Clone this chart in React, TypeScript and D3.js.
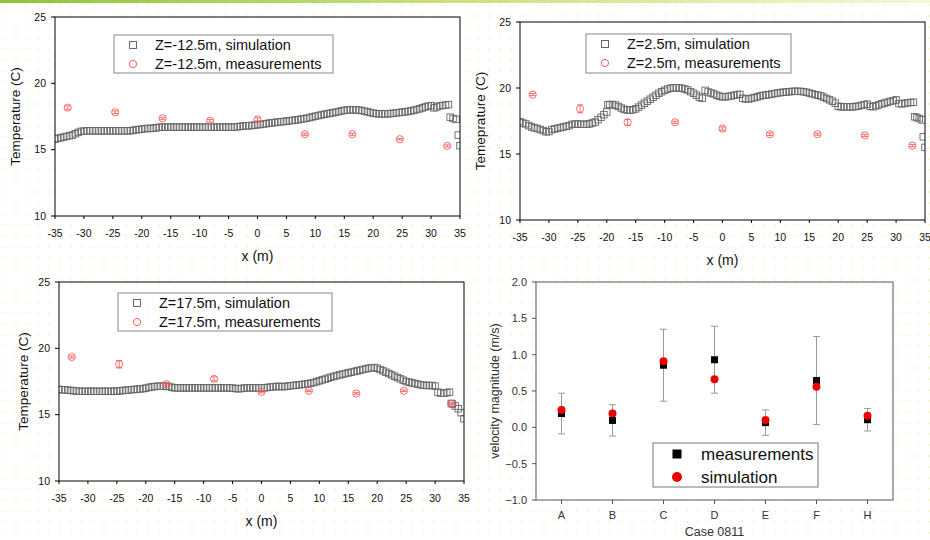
import * as d3 from "d3";

type Pt = [number, number];

const FONT = "'Liberation Sans', Arial, sans-serif";

// measurement stations along x (m), shared by the three temperature plots
const measX = [-32.8, -24.6, -16.4, -8.2, 0, 8.2, 16.4, 24.6, 32.8];

const measLow = [18.17, 17.82, 17.37, 17.18, 17.28, 16.16, 16.16, 15.79, 15.28];
const errLow = [0.12, 0.1, 0.08, 0.1, 0.12, 0.08, 0.08, 0.06, 0.08];
const measMid = [19.5, 18.42, 17.4, 17.4, 16.93, 16.5, 16.5, 16.41, 15.63];
const errMid = [0.08, 0.3, 0.22, 0.08, 0.12, 0.1, 0.08, 0.08, 0.08];
const measHigh = [19.35, 18.8, 17.3, 17.7, 16.72, 16.8, 16.6, 16.8, 15.82];
const errHigh = [0.08, 0.28, 0.08, 0.15, 0.08, 0.06, 0.06, 0.06, 0.06];

// simulation, Z=-12.5m
const simLow: Pt[] = [
  [-35, 15.8], [-34.5, 15.85], [-34, 15.9], [-33.5, 15.95], [-33, 16.0], [-32.5, 16.05], [-32, 16.1], [-31.5, 16.2],
  [-31, 16.3], [-30.5, 16.38], [-30, 16.4], [-29.5, 16.42], [-29, 16.42], [-28.5, 16.42], [-28, 16.42], [-27.5, 16.42],
  [-27, 16.42], [-26.5, 16.42], [-26, 16.42], [-25.5, 16.42], [-25, 16.42], [-24.5, 16.42], [-24, 16.42], [-23.5, 16.42],
  [-23, 16.42], [-22.5, 16.42], [-22, 16.43], [-21.5, 16.45], [-21, 16.5], [-20.5, 16.52], [-20, 16.55], [-19.5, 16.58],
  [-19, 16.6], [-18.5, 16.6], [-18, 16.62], [-17.5, 16.65], [-17, 16.68], [-16.5, 16.7], [-16, 16.7], [-15.5, 16.7],
  [-15, 16.7], [-14.5, 16.7], [-14, 16.7], [-13.5, 16.7], [-13, 16.7], [-12.5, 16.7], [-12, 16.7], [-11.5, 16.7],
  [-11, 16.7], [-10.5, 16.7], [-10, 16.7], [-9.5, 16.7], [-9, 16.7], [-8.5, 16.7], [-8, 16.7], [-7.5, 16.7],
  [-7, 16.7], [-6.5, 16.7], [-6, 16.7], [-5.5, 16.7], [-5, 16.7], [-4.5, 16.7], [-4, 16.7], [-3.5, 16.72],
  [-3, 16.75], [-2.5, 16.78], [-2, 16.8], [-1.5, 16.8], [-1, 16.82], [-0.5, 16.85], [0, 16.88], [0.5, 16.9],
  [1, 16.93], [1.5, 16.96], [2, 17.0], [2.5, 17.02], [3, 17.05], [3.5, 17.08], [4, 17.1], [4.5, 17.12],
  [5, 17.15], [5.5, 17.18], [6, 17.2], [6.5, 17.23], [7, 17.26], [7.5, 17.3], [8, 17.33], [8.5, 17.37],
  [9, 17.42], [9.5, 17.47], [10, 17.52], [10.5, 17.57], [11, 17.62], [11.5, 17.66], [12, 17.7], [12.5, 17.74],
  [13, 17.78], [13.5, 17.82], [14, 17.87], [14.5, 17.92], [15, 17.96], [15.5, 17.99], [16, 18.0], [16.5, 18.0],
  [17, 18.0], [17.5, 17.98], [18, 17.95], [18.5, 17.9], [19, 17.85], [19.5, 17.8], [20, 17.75], [20.5, 17.72],
  [21, 17.7], [21.5, 17.7], [22, 17.7], [22.5, 17.7], [23, 17.72], [23.5, 17.75], [24, 17.78], [24.5, 17.8],
  [25, 17.82], [25.5, 17.85], [26, 17.88], [26.5, 17.92], [27, 17.97], [27.5, 18.02], [28, 18.08], [28.5, 18.15],
  [29, 18.22], [29.5, 18.28], [30, 18.32], [30.5, 18.15], [31, 18.22], [31.5, 18.3], [32, 18.33], [32.5, 18.36],
  [33, 18.4], [33.3, 17.45], [33.8, 17.35], [34.3, 17.28], [34.7, 16.1], [35, 15.3],
];

// simulation, Z=2.5m
const simMid: Pt[] = [
  [-35, 17.45], [-34.5, 17.35], [-34, 17.28], [-33.5, 17.15], [-33, 17.05], [-32.5, 16.98], [-32, 16.93], [-31.5, 16.85],
  [-31, 16.78], [-30.5, 16.68], [-30, 16.7], [-29.5, 16.85], [-29, 16.9], [-28.5, 16.95], [-28, 17.0], [-27.5, 17.05],
  [-27, 17.1], [-26.5, 17.15], [-26, 17.25], [-25.5, 17.27], [-25, 17.27], [-24.5, 17.25], [-24, 17.25], [-23.5, 17.25],
  [-23, 17.28], [-22.5, 17.35], [-22, 17.42], [-21.5, 17.6], [-21, 17.78], [-20.5, 17.98], [-20, 18.18], [-19.8, 18.72],
  [-19.5, 18.75], [-19, 18.75], [-18.5, 18.7], [-18, 18.6], [-17.5, 18.48], [-17, 18.38], [-16.5, 18.33], [-16, 18.32],
  [-15.5, 18.35], [-15, 18.42], [-14.5, 18.55], [-14, 18.7], [-13.5, 18.85], [-13, 19.0], [-12.5, 19.15], [-12, 19.3],
  [-11.5, 19.45], [-11, 19.6], [-10.5, 19.72], [-10, 19.82], [-9.5, 19.92], [-9, 19.98], [-8.5, 20.02], [-8, 20.02],
  [-7.5, 20.0], [-7, 19.98], [-6.5, 19.92], [-6, 19.85], [-5.5, 19.72], [-5, 19.6], [-4.5, 19.45], [-4, 19.3],
  [-3.5, 19.22], [-3, 19.82], [-2.5, 19.7], [-2, 19.62], [-1.5, 19.55], [-1, 19.45], [-0.5, 19.38], [0, 19.33],
  [0.5, 19.33], [1, 19.36], [1.5, 19.4], [2, 19.45], [2.5, 19.5], [3, 19.52], [3.5, 19.22], [4, 19.17],
  [4.5, 19.17], [5, 19.22], [5.5, 19.27], [6, 19.33], [6.5, 19.4], [7, 19.44], [7.5, 19.47], [8, 19.5],
  [8.5, 19.54], [9, 19.58], [9.5, 19.62], [10, 19.65], [10.5, 19.68], [11, 19.7], [11.5, 19.72], [12, 19.74],
  [12.5, 19.75], [13, 19.75], [13.5, 19.74], [14, 19.72], [14.5, 19.68], [15, 19.62], [15.5, 19.56], [16, 19.5],
  [16.5, 19.45], [17, 19.4], [17.5, 19.3], [18, 19.2], [18.5, 19.1], [19, 19.0], [19.5, 18.85], [20, 18.62],
  [20.5, 18.57], [21, 18.57], [21.5, 18.57], [22, 18.57], [22.5, 18.57], [23, 18.6], [23.5, 18.63], [24, 18.68],
  [24.5, 18.74], [25, 18.78], [25.5, 18.62], [26, 18.58], [26.5, 18.65], [27, 18.72], [27.5, 18.8], [28, 18.86],
  [28.5, 18.92], [29, 18.98], [29.5, 19.04], [30, 19.1], [30.5, 18.82], [31, 18.8], [31.5, 18.84], [32, 18.88],
  [32.5, 18.9], [33, 18.92], [33.2, 17.82], [33.6, 17.76], [34, 17.68], [34.5, 17.58], [34.7, 16.3], [35, 15.5],
];

// simulation, Z=17.5m
const simHigh: Pt[] = [
  [-35, 16.9], [-34.5, 16.88], [-34, 16.87], [-33.5, 16.85], [-33, 16.83], [-32.5, 16.8], [-32, 16.78], [-31.5, 16.76],
  [-31, 16.76], [-30.5, 16.76], [-30, 16.76], [-29.5, 16.76], [-29, 16.76], [-28.5, 16.76], [-28, 16.76], [-27.5, 16.76],
  [-27, 16.76], [-26.5, 16.76], [-26, 16.76], [-25.5, 16.76], [-25, 16.78], [-24.5, 16.8], [-24, 16.82], [-23.5, 16.84],
  [-23, 16.86], [-22.5, 16.88], [-22, 16.9], [-21.5, 16.92], [-21, 16.94], [-20.5, 16.96], [-20, 17.0], [-19.5, 17.05],
  [-19, 17.1], [-18.5, 17.12], [-18, 17.14], [-17.5, 17.15], [-17, 17.15], [-16.5, 17.15], [-16, 17.12], [-15.5, 17.06],
  [-15, 17.02], [-14.5, 17.02], [-14, 17.02], [-13.5, 17.02], [-13, 17.02], [-12.5, 17.02], [-12, 17.02], [-11.5, 17.02],
  [-11, 17.02], [-10.5, 17.02], [-10, 17.02], [-9.5, 17.02], [-9, 17.02], [-8.5, 17.02], [-8, 17.02], [-7.5, 17.02],
  [-7, 17.02], [-6.5, 17.02], [-6, 17.02], [-5.5, 17.02], [-5, 17.0], [-4.5, 16.97], [-4, 16.95], [-3.5, 16.97],
  [-3, 17.0], [-2.5, 17.02], [-2, 17.02], [-1.5, 17.02], [-1, 17.02], [-0.5, 17.02], [0, 17.02], [0.5, 17.02],
  [1, 17.05], [1.5, 17.08], [2, 17.1], [2.5, 17.12], [3, 17.14], [3.5, 17.1], [4, 17.12], [4.5, 17.15],
  [5, 17.18], [5.5, 17.2], [6, 17.22], [6.5, 17.25], [7, 17.28], [7.5, 17.3], [8, 17.33], [8.5, 17.37],
  [9, 17.42], [9.5, 17.48], [10, 17.55], [10.5, 17.62], [11, 17.68], [11.5, 17.75], [12, 17.82], [12.5, 17.88],
  [13, 17.94], [13.5, 18.0], [14, 18.05], [14.5, 18.1], [15, 18.15], [15.5, 18.2], [16, 18.25], [16.5, 18.3],
  [17, 18.35], [17.5, 18.4], [18, 18.45], [18.5, 18.5], [19, 18.53], [19.5, 18.55], [20, 18.5], [20.5, 18.4],
  [21, 18.3], [21.5, 18.2], [22, 18.1], [22.5, 18.0], [23, 17.9], [23.5, 17.8], [24, 17.7], [24.5, 17.6],
  [25, 17.5], [25.5, 17.45], [26, 17.4], [26.5, 17.35], [27, 17.3], [27.5, 17.25], [28, 17.22], [28.5, 17.2],
  [29, 17.2], [29.5, 17.2], [30, 17.15], [30.5, 16.7], [31, 16.62], [31.5, 16.62], [32, 16.65], [32.5, 16.7],
  [32.8, 15.85], [33, 15.8], [33.5, 15.65], [34, 15.45], [34.5, 15.15], [35, 14.7],
];

const xTicks = [-35, -30, -25, -20, -15, -10, -5, 0, 5, 10, 15, 20, 25, 30, 35];
const tTicks = [10, 15, 20, 25];

// velocity panel
const cases = ["A", "B", "C", "D", "E", "F", "H"];
const velMeas = [0.19, 0.095, 0.855, 0.93, 0.065, 0.645, 0.105];
const velErr = [0.28, 0.215, 0.495, 0.46, 0.175, 0.605, 0.155];
const velSim = [0.24, 0.19, 0.91, 0.66, 0.1, 0.56, 0.16];
const vTicks = [-1, -0.5, 0, 0.5, 1, 1.5, 2];

type Box = { l: number; r: number; t: number; b: number };

function TempPanel(props: {
  id: string;
  box: Box;
  sim: Pt[];
  meas: number[];
  err: number[];
  yLabel: string;
  yLabelX: number;
  z: string;
  legend: [number, number, number, number];
}) {
  const { id, box, sim, meas, err, yLabel, yLabelX, z, legend } = props;
  const x = d3.scaleLinear().domain([-35, 35]).range([box.l, box.r]);
  const y = d3.scaleLinear().domain([10, 25]).range([box.b, box.t]);
  const sq = 6.5;
  const red = "#ff5c5c";
  const [lx, ly, lw, lh] = legend;

  return (
    <g>
      <defs>
        <clipPath id={id}>
          <rect x={box.l} y={box.t} width={box.r - box.l} height={box.b - box.t} />
        </clipPath>
      </defs>
      <rect x={box.l} y={box.t} width={box.r - box.l} height={box.b - box.t} fill="#fff" />
      <g clipPath={`url(#${id})`}>
        {sim.map((d, i) => (
          <rect
            key={i}
            x={x(d[0]) - sq / 2}
            y={y(d[1]) - sq / 2}
            width={sq}
            height={sq}
            fill="none"
            stroke="#666"
            strokeWidth={0.9}
          />
        ))}
      </g>
      {measX.map((mx, i) => {
        const cx = x(mx);
        const y1 = y(meas[i] + err[i]);
        const y2 = y(meas[i] - err[i]);
        return (
          <g key={i} stroke={red} fill="none" strokeWidth={0.9}>
            <line x1={cx} x2={cx} y1={y1} y2={y2} />
            <line x1={cx - 3} x2={cx + 3} y1={y1} y2={y1} />
            <line x1={cx - 3} x2={cx + 3} y1={y2} y2={y2} />
            <circle cx={cx} cy={y(meas[i])} r={3.6} />
          </g>
        );
      })}
      <rect x={box.l} y={box.t} width={box.r - box.l} height={box.b - box.t} fill="none" stroke="#000" strokeWidth={1} />
      {tTicks.map((t) => (
        <g key={t}>
          <line x1={box.l - 4} x2={box.l} y1={y(t)} y2={y(t)} stroke="#000" />
          <text x={box.l - 9} y={y(t) + 3.5} textAnchor="end" fontSize={10.5} fontFamily={FONT} fill="#111">
            {t}
          </text>
        </g>
      ))}
      {xTicks.map((t) => (
        <g key={t}>
          <line x1={x(t)} x2={x(t)} y1={box.b} y2={box.b + 3} stroke="#000" />
          <text x={x(t)} y={box.b + 21} textAnchor="middle" fontSize={10.5} fontFamily={FONT} fill="#111">
            {t}
          </text>
        </g>
      ))}
      <text
        x={(box.l + box.r) / 2}
        y={box.b + 45}
        textAnchor="middle"
        fontSize={14}
        fontFamily={FONT}
        fill="#111"
      >
        x (m)
      </text>
      <text
        transform={`translate(${yLabelX},${(box.t + box.b) / 2}) rotate(-90)`}
        textAnchor="middle"
        dy="0.35em"
        fontSize={13.5}
        fontFamily={FONT}
        fill="#111"
      >
        {yLabel}
      </text>
      <rect x={lx} y={ly} width={lw} height={lh} fill="#fff" stroke="#888" strokeWidth={1} />
      <rect x={lx + 19 - 3.5} y={ly + 10 - 3.5} width={7} height={7} fill="none" stroke="#666" />
      <circle cx={lx + 19} cy={ly + 29} r={3.6} fill="none" stroke={red} />
      <text x={lx + 41} y={ly + 15} fontSize={14.5} fontFamily={FONT} fill="#111">
        {`Z=${z}m, simulation`}
      </text>
      <text x={lx + 41} y={ly + 34} fontSize={14.5} fontFamily={FONT} fill="#111">
        {`Z=${z}m, measurements`}
      </text>
    </g>
  );
}

function VelPanel() {
  const box: Box = { l: 536, r: 893, t: 282, b: 500 };
  const x = d3.scalePoint<string>().domain(cases).range([box.l, box.r]).padding(0.5);
  const y = d3.scaleLinear().domain([-1, 2]).range([box.b, box.t]);
  const fmt = d3.format(".1f");
  return (
    <g>
      <rect x={box.l} y={box.t} width={box.r - box.l} height={box.b - box.t} fill="#fff" />
      {cases.map((c, i) => {
        const cx = x(c) as number;
        const y1 = y(velMeas[i] + velErr[i]);
        const y2 = y(velMeas[i] - velErr[i]);
        return (
          <g key={c} stroke="#9a9a9a" strokeWidth={1}>
            <line x1={cx} x2={cx} y1={y1} y2={y2} />
            <line x1={cx - 3.5} x2={cx + 3.5} y1={y1} y2={y1} />
            <line x1={cx - 3.5} x2={cx + 3.5} y1={y2} y2={y2} />
          </g>
        );
      })}
      {cases.map((c, i) => (
        <rect key={c} x={(x(c) as number) - 3.5} y={y(velMeas[i]) - 3.5} width={7} height={7} fill="#000" />
      ))}
      {cases.map((c, i) => (
        <circle key={c} cx={x(c) as number} cy={y(velSim[i])} r={4} fill="#ee0000" />
      ))}
      <rect x={box.l} y={box.t} width={box.r - box.l} height={box.b - box.t} fill="none" stroke="#555" strokeWidth={1} />
      {vTicks.map((t) => (
        <g key={t}>
          <line x1={box.l - 4} x2={box.l} y1={y(t)} y2={y(t)} stroke="#555" />
          <text x={box.l - 9} y={y(t) + 4} textAnchor="end" fontSize={11} fontFamily={FONT} fill="#333">
            {fmt(t)}
          </text>
        </g>
      ))}
      {cases.map((c) => (
        <g key={c}>
          <line x1={x(c) as number} x2={x(c) as number} y1={box.b} y2={box.b + 4} stroke="#555" />
          <text x={x(c) as number} y={box.b + 19} textAnchor="middle" fontSize={11} fontFamily={FONT} fill="#333">
            {c}
          </text>
        </g>
      ))}
      <text x={(box.l + box.r) / 2} y={536} textAnchor="middle" fontSize={12.5} fontFamily={FONT} fill="#333">
        Case 0811
      </text>
      <text
        transform={`translate(495,${(box.t + box.b) / 2}) rotate(-90)`}
        textAnchor="middle"
        dy="0.35em"
        fontSize={12.5}
        fontFamily={FONT}
        fill="#333"
      >
        velocity magnitude (m/s)
      </text>
      <rect x={653} y={443} width={165} height={44} fill="#fff" stroke="#777" />
      <rect x={677 - 4.5} y={454 - 4.5} width={9} height={9} fill="#000" />
      <circle cx={677} cy={477} r={5} fill="#ee0000" />
      <text x={701} y={460} fontSize={17} fontFamily={FONT} fill="#111">
        measurements
      </text>
      <text x={701} y={483} fontSize={17} fontFamily={FONT} fill="#111">
        simulation
      </text>
    </g>
  );
}

export default function App() {
  return (
    <div style={{ position: "absolute", left: 0, top: 0 }}>
      <svg width={930} height={540} style={{ display: "block" }}>
        <defs>
          <pattern id="dots" width={11} height={11} patternUnits="userSpaceOnUse">
            <rect x={4} y={4} width={2} height={2} fill="#faf6d4" />
          </pattern>
          <linearGradient id="topbar" x1="0" x2="1" y1="0" y2="0">
            <stop offset="0" stopColor="#8cc43c" />
            <stop offset="0.45" stopColor="#c6df78" />
            <stop offset="1" stopColor="#f6f7d6" />
          </linearGradient>
        </defs>
        <rect width={930} height={540} fill="#fff" />
        <rect width={930} height={540} fill="url(#dots)" />
        <rect width={930} height={3} fill="url(#topbar)" />
        <TempPanel
          id="c1"
          box={{ l: 55, r: 460, t: 17, b: 216 }}
          sim={simLow}
          meas={measLow}
          err={errLow}
          yLabel="Temperature (C)"
          yLabelX={15}
          z="-12.5"
          legend={[114, 35, 219, 38]}
        />
        <TempPanel
          id="c2"
          box={{ l: 520, r: 925, t: 22, b: 220 }}
          sim={simMid}
          meas={measMid}
          err={errMid}
          yLabel="Temeprature (C)"
          yLabelX={480}
          z="2.5"
          legend={[586, 34, 205, 39]}
        />
        <TempPanel
          id="c3"
          box={{ l: 59, r: 464, t: 282, b: 481 }}
          sim={simHigh}
          meas={measHigh}
          err={errHigh}
          yLabel="Temperature (C)"
          yLabelX={23}
          z="17.5"
          legend={[118, 293, 214, 38]}
        />
        <VelPanel />
      </svg>
    </div>
  );
}
